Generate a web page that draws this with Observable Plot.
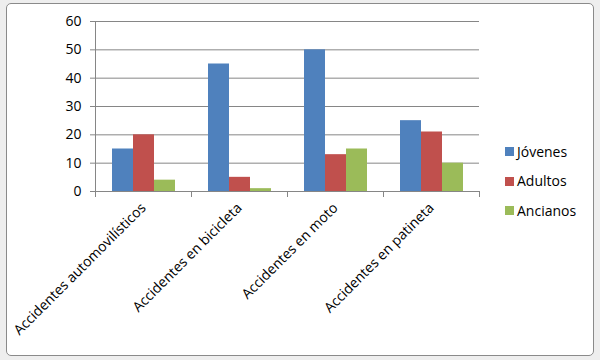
<!DOCTYPE html>
<html><head><meta charset="utf-8">
<script src="https://cdn.jsdelivr.net/npm/d3@7"></script>
<script src="https://cdn.jsdelivr.net/npm/@observablehq/plot@0.6"></script>
<style>
body{margin:0;background:#eeeeee;font-family:"Open Sans",sans-serif;}
#wrap{position:relative;width:600px;height:360px;overflow:hidden;}
#box{position:absolute;left:6px;top:3px;width:586px;height:351px;border:1px solid #8a8a8a;border-radius:5px;background:#fff;}
#chart{position:absolute;left:0;top:0;}
#legend{position:absolute;left:505px;top:136px;}
.item{position:absolute;left:0;display:flex;align-items:center;height:30px;font-size:14px;color:#000;white-space:nowrap;}
.sw{width:9px;height:9px;margin-right:3px;margin-top:1px;}
</style></head><body>
<div id="wrap"><div id="box"></div><div id="chart"></div><div id="legend"></div></div>
<script>
const categories = ["Accidentes automovilísticos", "Accidentes en bicicleta", "Accidentes en moto", "Accidentes en patineta"];
const series = ["Jóvenes", "Adultos", "Ancianos"];
const colors = ["#4F81BD", "#C0504D", "#9BBB59"];
const jovenes = [15, 45, 50, 25];
const adultos = [20, 5, 13, 21];
const ancianos = [4, 1, 15, 10];
const yTicks = [0, 10, 20, 30, 40, 50, 60];

const valuesBySeries = [jovenes, adultos, ancianos];
const rows = categories.flatMap((c, i) => series.map((s, j) => ({cat: c, series: s, value: valuesBySeries[j][i]})));

const grid = "#868686";
const plot = Plot.plot({
  width: 600, height: 360,
  marginLeft: 95, marginRight: 121, marginTop: 21, marginBottom: 169,
  style: {background: "transparent", fontFamily: "'Open Sans', sans-serif", fontSize: "14px", color: "#000"},
  fx: {domain: categories, padding: 0, label: null, axis: null},
  x: {domain: series, paddingInner: 0, paddingOuter: 0.75, axis: null},
  y: {domain: [0, 60], axis: null},
  color: {domain: series, range: colors},
  marks: [
    Plot.ruleY(yTicks, {stroke: grid, strokeWidth: 1}),
    Plot.barY(rows, {fx: "cat", x: "series", y: "value", fill: "series"}),
    Plot.frame({anchor: "left", fx: categories[0], stroke: grid}),
    Plot.frame({anchor: "left", insetTop: 170, insetBottom: -5, stroke: grid}),
    Plot.frame({anchor: "right", insetTop: 170, insetBottom: -5, stroke: grid}),
    Plot.axisY(yTicks, {anchor: "left", tickSize: 5, tickPadding: 9, stroke: grid, fill: "#000", fontSize: 14, label: null}),
    Plot.axisFx({anchor: "bottom", tickSize: 0, tickPadding: 14, tickRotate: -45, fontSize: 14, fill: "#000", label: null})
  ]
});
document.getElementById("chart").appendChild(plot);

const legend = document.getElementById("legend");
series.forEach((s, i) => {
  const item = document.createElement("div");
  item.className = "item";
  item.style.top = (i * 29.5) + "px";
  const sw = document.createElement("div");
  sw.className = "sw";
  sw.style.background = colors[i];
  item.appendChild(sw);
  item.appendChild(document.createTextNode(s));
  legend.appendChild(item);
});
</script>
</body></html>
